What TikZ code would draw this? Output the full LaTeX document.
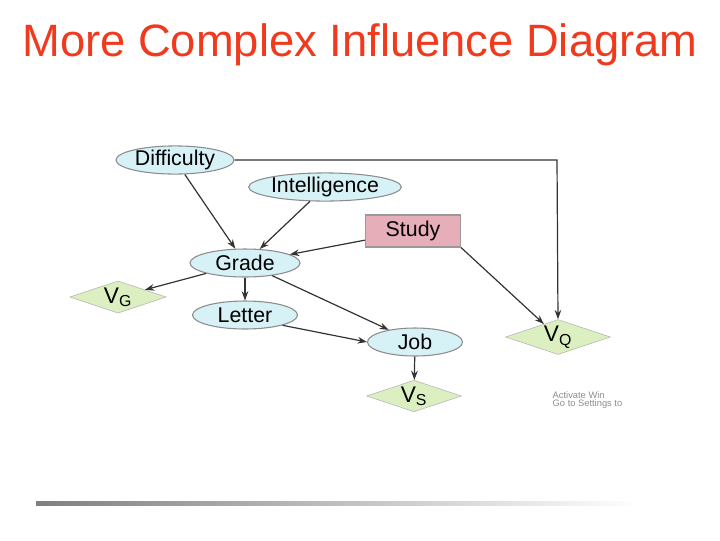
\documentclass[tikz,border=0pt]{standalone}
\usepackage{fontspec}
\setmainfont{Liberation Sans}
\usetikzlibrary{shapes.geometric,arrows.meta}
\definecolor{ellfill}{HTML}{D6F2F6}
\definecolor{studyfill}{HTML}{E6AEB8}
\definecolor{vfill}{HTML}{DCEFC0}
\definecolor{titlered}{HTML}{F03A1E}
\begin{document}
\begin{tikzpicture}[x=0.75pt,y=-0.75pt,
  chance/.style={ellipse,draw=black!45,fill=ellfill,line width=0.8pt,inner sep=0pt,font=\fontsize{16}{16}\selectfont},
  dec/.style={rectangle,draw=black!40,fill=studyfill,line width=0.8pt,font=\fontsize{16}{16}\selectfont},
  util/.style={diamond,draw=black!30,fill=vfill,aspect=3,inner sep=1pt,font=\fontsize{17}{17}\selectfont},
  arr/.style={-{Stealth[length=7pt,width=5pt]},line width=0.9pt,draw=black!80}]
\useasboundingbox (0,0) rectangle (720,540);
\node[text=titlered,font=\fontsize{34}{34}\selectfont] (title) at (360,45) {More Complex Influence Diagram};
\node[chance,minimum width=118pt*0.75,minimum height=28*0.75pt] (diff) at (175,160) {Difficulty};
\node[chance,minimum width=135*0.75pt,minimum height=28*0.75pt] (int) at (325,187) {Intelligence};
\node[dec,minimum width=95*0.75pt,minimum height=32*0.75pt] (study) at (413,231) {Study};
\node[chance,minimum width=110*0.75pt,minimum height=28*0.75pt] (grade) at (245,263) {Grade};
\node[chance,minimum width=105*0.75pt,minimum height=28*0.75pt] (letter) at (245,315) {Letter};
\node[chance,minimum width=95*0.75pt,minimum height=28*0.75pt] (job) at (415,342) {Job};
\node[util,minimum width=95*0.75pt,minimum height=30*0.75pt] (vg) at (118,297) {V\textsubscript{G}};
\node[util,minimum width=95*0.75pt,minimum height=32*0.75pt] (vq) at (558,337) {V\textsubscript{Q}};
\node[util,minimum width=95*0.75pt,minimum height=30*0.75pt] (vs) at (414,396) {V\textsubscript{S}};
\draw[arr] (diff) -- (grade);
\draw[arr] (int) -- (grade);
\draw[arr] (study) -- (grade);
\draw[arr] (grade) -- (vg);
\draw[arr] (grade) -- (letter);
\draw[arr] (grade) -- (job);
\draw[arr] (letter.south east) to (job.west);
\draw[arr] (job) -- (vs);
\draw[arr] (study.south east) -- (vq);
\draw[arr] (diff.east) -- (557,160) -- (vq.north);
\node[text=black!45,font=\fontsize{7}{7}\selectfont,anchor=west,align=left] (act) at (548,400) {Activate Win\\[-1pt]Go to Settings to};
\shade[left color=black!50,right color=white] (36,501) rectangle (640,505);
\end{tikzpicture}
\end{document}
